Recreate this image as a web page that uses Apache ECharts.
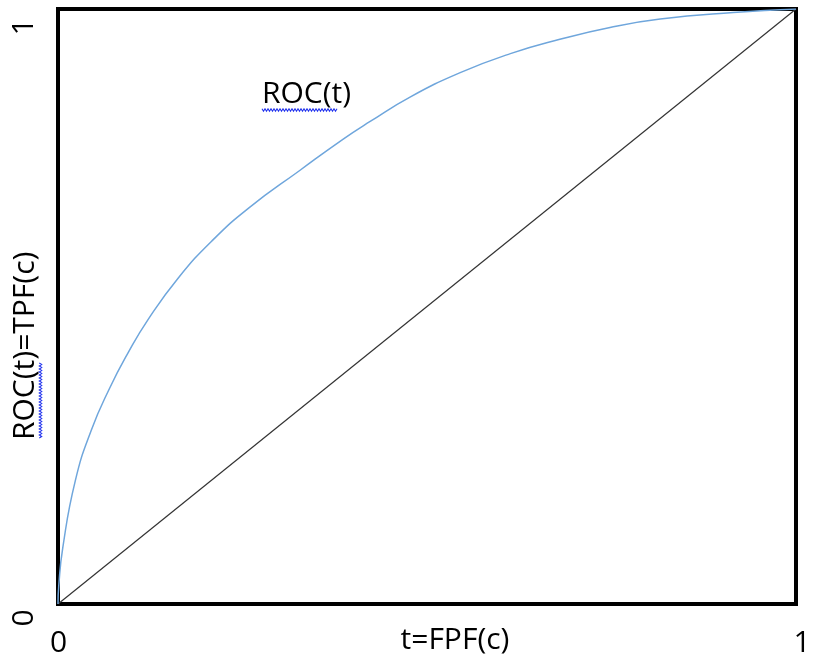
<!DOCTYPE html>
<html>
<head>
<meta charset="utf-8">
<script src="https://cdn.jsdelivr.net/npm/echarts@6/dist/echarts.min.js"></script>
<style>html,body{margin:0;padding:0;background:#fff;}#c{width:815px;height:666px;}</style>
</head>
<body>
<div id="c"></div>
<script>
// Data
const tickLabels = ['0', '1'];
const fpf = [0, 0.001, 0.0064, 0.0234, 0.0451, 0.0701, 0.0949, 0.122, 0.163, 0.210, 0.260, 0.328, 0.386, 0.423, 0.477, 0.545, 0.613, 0.680, 0.748, 0.816, 0.915, 1];
const tpf = [0, 0.030, 0.094, 0.207, 0.292, 0.363, 0.422, 0.478, 0.548, 0.612, 0.667, 0.729, 0.781, 0.811, 0.852, 0.893, 0.925, 0.949, 0.969, 0.983, 0.994, 1];
const chanceX = [0, 1];
const chanceY = [0, 1];
const xName = 't=FPF(c)';
const yName = 'ROC(t)=TPF(c)';
const curveName = 'ROC(t)';

const FONT = '"Open Sans", "Noto Sans", sans-serif';
const chart = echarts.init(document.getElementById('c'), null, {renderer: 'canvas'});

function squiggle(x0, y0, len, vertical) {
  const pts = [];
  const step = 1.5;
  let k = 0;
  for (let d = 0; d <= len; d += step, k++) {
    const off = (k % 2 === 0) ? -1.2 : 1.2;
    pts.push(vertical ? [x0 + off, y0 - d] : [x0 + d, y0 + off]);
  }
  return pts;
}

chart.setOption({
  animation: false,
  backgroundColor: '#fff',
  grid: {left: 58, right: 19, top: 9, bottom: 62, show: true, borderColor: '#000', borderWidth: 4, backgroundColor: '#fff'},
  xAxis: {type: 'value', min: 0, max: 1, interval: 1, axisLine: {show: false}, axisTick: {show: false}, splitLine: {show: false}, axisLabel: {show: false}},
  yAxis: {type: 'value', min: 0, max: 1, interval: 1, axisLine: {show: false}, axisTick: {show: false}, splitLine: {show: false}, axisLabel: {show: false}},
  series: [
    {type: 'line', name: 'chance', data: chanceX.map((x, i) => [x, chanceY[i]]), showSymbol: false, lineStyle: {color: '#333', width: 1.2}, z: 2},
    {type: 'line', name: curveName, data: fpf.map((x, i) => [x, tpf[i]]), smooth: 0.5, showSymbol: false, lineStyle: {color: '#6fa6dc', width: 1.5}, z: 3}
  ]
});

const p0 = chart.convertToPixel({gridIndex: 0}, [0, 0]);
const p1 = chart.convertToPixel({gridIndex: 0}, [1, 1]);
const ts = {fontFamily: FONT, fontSize: 30, fill: '#000'};

chart.setOption({
  graphic: [
    {type: 'text', x: p0[0] + 0.5, y: 643, style: Object.assign({}, ts, {text: tickLabels[0], textAlign: 'center', textVerticalAlign: 'middle'})},
    {type: 'text', x: p1[0] + 6, y: 643, style: Object.assign({}, ts, {text: tickLabels[1], textAlign: 'center', textVerticalAlign: 'middle'})},
    {type: 'text', x: 24, y: p0[1] + 14, rotation: Math.PI / 2, style: Object.assign({}, ts, {text: tickLabels[0], textAlign: 'center', textVerticalAlign: 'middle'})},
    {type: 'text', x: 24, y: p1[1] + 18, rotation: Math.PI / 2, style: Object.assign({}, ts, {text: tickLabels[1], textAlign: 'center', textVerticalAlign: 'middle'})},
    {type: 'text', x: 455, y: 640, style: Object.assign({}, ts, {text: xName, textAlign: 'center', textVerticalAlign: 'middle'})},
    {type: 'text', x: 25, y: 440, rotation: Math.PI / 2, style: Object.assign({}, ts, {text: yName, textAlign: 'left', textVerticalAlign: 'middle'})},
    {type: 'text', x: 262, y: 94, style: Object.assign({}, ts, {text: curveName, textAlign: 'left', textVerticalAlign: 'middle'})},
    {type: 'polyline', shape: {points: squiggle(262, 110, 75, false)}, style: {stroke: '#2233ee', lineWidth: 1.1, fill: null}},
    {type: 'polyline', shape: {points: squiggle(40.5, 438, 75, true)}, style: {stroke: '#2233ee', lineWidth: 1.1, fill: null}}
  ]
});
</script>
</body>
</html>
